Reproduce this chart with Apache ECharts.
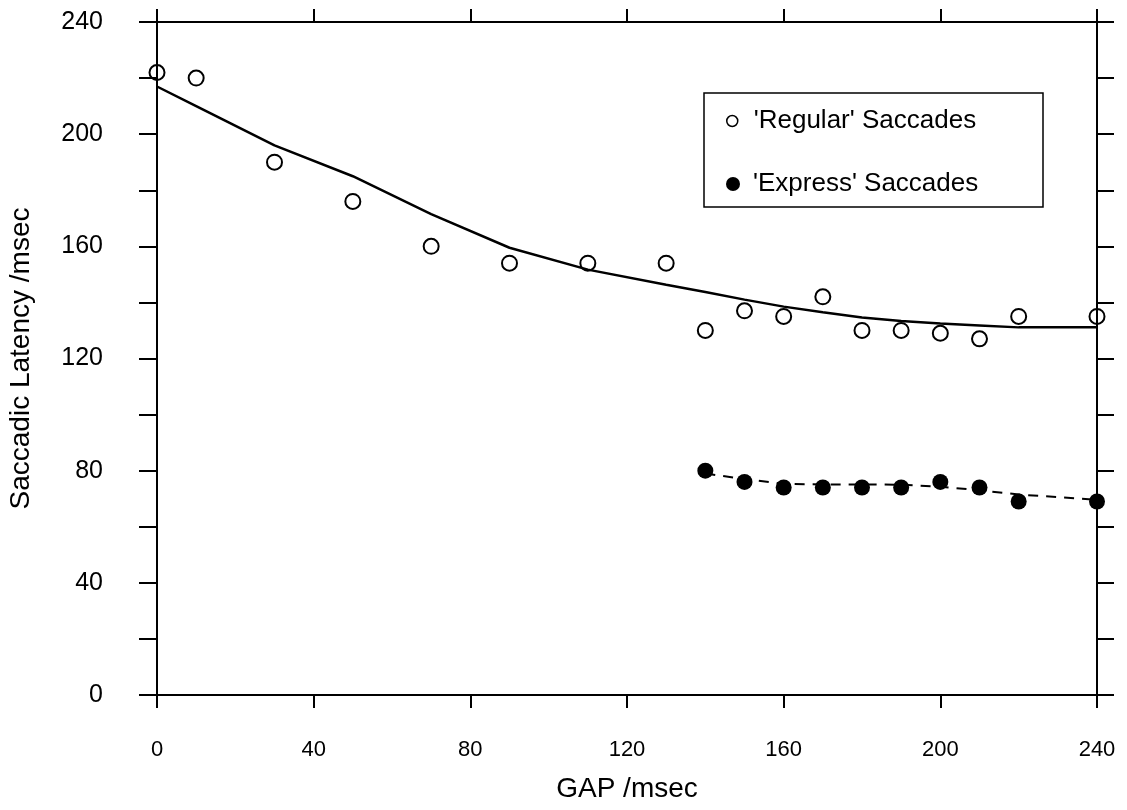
<!DOCTYPE html>
<html>
<head>
<meta charset="utf-8">
<script src="https://cdn.jsdelivr.net/npm/echarts@6/dist/echarts.min.js"></script>
<style>
html,body{margin:0;padding:0;background:#fff;}
#chart{width:1127px;height:810px;}
</style>
</head>
<body>
<div id="chart"></div>
<script>
const gapRegular = [0, 10, 30, 50, 70, 90, 110, 130, 140, 150, 160, 170, 180, 190, 200, 210, 220, 240];
const latencyRegular = [222, 220, 190, 176, 160, 154, 154, 154, 130, 137, 135, 142, 130, 130, 129, 127, 135, 135];
const fitRegular = [217, 210, 196, 185, 171.5, 159.5, 151.7, 146.3, 143.7, 141, 138.5, 136.5, 134.6, 133.4, 132.5, 131.8, 131.1, 131.1];
const gapExpress = [140, 150, 160, 170, 180, 190, 200, 210, 220, 240];
const latencyExpress = [80, 76, 74, 74, 74, 74, 76, 74, 69, 69];
const fitExpress = [79, 77, 75.3, 75.1, 75.1, 75, 74.3, 73, 71.5, 69.6];
const seriesNames = ["'Regular' Saccades", "'Express' Saccades"];
const xTitle = 'GAP /msec';
const yTitle = 'Saccadic Latency /msec';

const FONT = '"Liberation Sans", Arial, Helvetica, sans-serif';
const pairs = (xs, ys) => xs.map((x, i) => [x, ys[i]]);

const chart = echarts.init(document.getElementById('chart'), null, {renderer: 'canvas'});
const axisLine = {show: true, onZero: false, lineStyle: {color: '#000', width: 2}};
const tickStyle = {color: '#000', width: 2};

chart.setOption({
  animation: false,
  backgroundColor: '#fff',
  textStyle: {fontFamily: FONT, color: '#000'},
  grid: {left: 157, right: 30, top: 22, bottom: 115, containLabel: false, outerBoundsMode: 'none'},
  xAxis: [
    {
      type: 'value', position: 'bottom', min: 0, max: 240, interval: 40,
      axisLine: axisLine,
      axisTick: {show: true, inside: false, length: 13, lineStyle: tickStyle},
      axisLabel: {show: true, fontSize: 22, color: '#000', margin: 44, fontFamily: FONT},
      splitLine: {show: false},
      name: xTitle, nameLocation: 'middle', nameGap: 80,
      nameTextStyle: {fontSize: 28, color: '#000', fontFamily: FONT}
    },
    {
      type: 'value', position: 'top', min: 0, max: 240, interval: 40,
      axisLine: axisLine,
      axisTick: {show: true, inside: false, length: 13, lineStyle: tickStyle},
      axisLabel: {show: false},
      splitLine: {show: false}
    }
  ],
  yAxis: [
    {
      type: 'value', position: 'left', min: 0, max: 240, interval: 40,
      axisLine: axisLine,
      axisTick: {show: true, inside: false, length: 18, lineStyle: tickStyle},
      minorTick: {show: true, splitNumber: 2, length: 18, lineStyle: tickStyle},
      axisLabel: {show: true, fontSize: 25, color: '#000', margin: 54, fontFamily: FONT},
      splitLine: {show: false},
      name: yTitle, nameLocation: 'middle', nameRotate: 90, nameGap: 122,
      nameTextStyle: {fontSize: 28, color: '#000', fontFamily: FONT}
    },
    {
      type: 'value', position: 'right', min: 0, max: 240, interval: 40,
      axisLine: axisLine,
      axisTick: {show: true, inside: false, length: 17, lineStyle: tickStyle},
      minorTick: {show: true, splitNumber: 2, length: 17, lineStyle: tickStyle},
      axisLabel: {show: false},
      splitLine: {show: false}
    }
  ],
  graphic: [
    {
      type: 'rect', z: 3,
      shape: {x: 704, y: 93, width: 339, height: 114},
      style: {fill: '#fff', stroke: '#000', lineWidth: 1.5}
    }
  ],
  legend: [
    {
      z: 10, left: 726, top: 108, orient: 'vertical', padding: 0,
      data: [{name: seriesNames[0], icon: 'circle',
              itemStyle: {color: '#fff', borderColor: '#000', borderWidth: 1.5, opacity: 1}}],
      itemWidth: 11, itemHeight: 11,
      textStyle: {fontSize: 26, color: '#000', fontFamily: FONT, padding: [0, 0, 0, 11]},
      selectedMode: false
    },
    {
      z: 10, left: 726, top: 171, orient: 'vertical', padding: 0,
      data: [{name: seriesNames[1], icon: 'circle', itemStyle: {color: '#000', opacity: 1}}],
      itemWidth: 14, itemHeight: 14,
      textStyle: {fontSize: 26, color: '#000', fontFamily: FONT, padding: [0, 0, 0, 8]},
      selectedMode: false
    }
  ],
  series: [
    {
      name: seriesNames[0], type: 'scatter', data: pairs(gapRegular, latencyRegular),
      symbol: 'circle', symbolSize: 15,
      itemStyle: {color: 'rgba(255,255,255,0)', borderColor: '#000', borderWidth: 2, opacity: 1},
      z: 2
    },
    {
      name: 'Regular fit', type: 'line', data: pairs(gapRegular, fitRegular),
      showSymbol: false, symbol: 'none', smooth: false,
      lineStyle: {color: '#000', width: 2.5}, z: 3
    },
    {
      name: 'Express fit', type: 'line', data: pairs(gapExpress, fitExpress),
      showSymbol: false, symbol: 'none',
      lineStyle: {color: '#000', width: 2, type: [10, 8]}, z: 2
    },
    {
      name: seriesNames[1], type: 'scatter', data: pairs(gapExpress, latencyExpress),
      symbol: 'circle', symbolSize: 16,
      itemStyle: {color: '#000', borderColor: '#000', borderWidth: 0, opacity: 1},
      z: 3
    }
  ]
});
</script>
</body>
</html>
